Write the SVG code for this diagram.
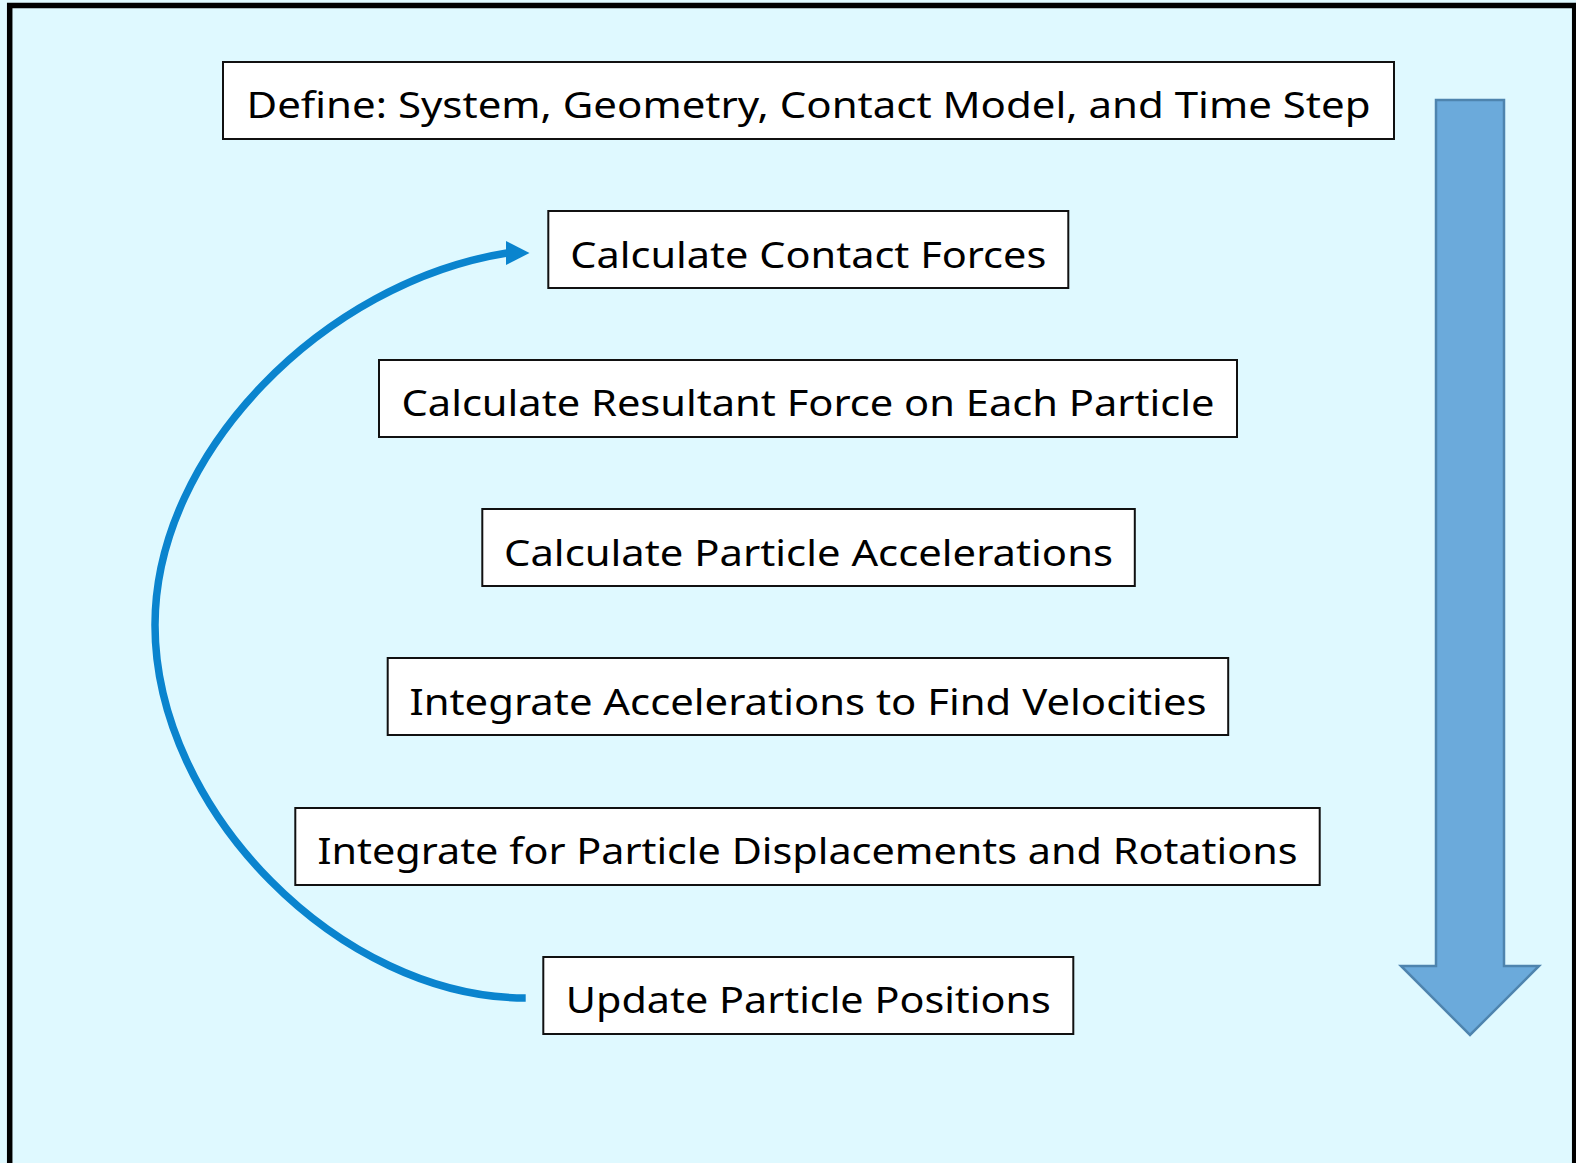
<svg xmlns="http://www.w3.org/2000/svg" width="1576" height="1163" viewBox="0 0 1576 1163">
<style>
.box rect { fill: #ffffff; stroke: #111111; stroke-width: 2; }
.box text { font-family: "Noto Sans", "Open Sans", sans-serif; font-size: 36.5px; fill: #000000; text-anchor: middle; }
</style>
<defs>
<marker id="head" markerUnits="userSpaceOnUse" markerWidth="26" markerHeight="26" refX="1" refY="12" orient="0">
<polygon points="0,0 23.5,12 0,24" fill="#0A84CE"/>
</marker>
</defs>
<rect x="0" y="0" width="1576" height="1163" fill="#DFF9FF"/>
<rect id="frame" x="9.7" y="5.5" width="1565" height="1200" fill="#DFF9FF" stroke="#000000" stroke-width="5.5"/>

<g id="flow-arrow">
<polygon points="1436,100 1504,100 1504,966 1539,966 1470,1035 1401,966 1436,966" fill="#6BAADB" stroke="#4E84AE" stroke-width="2.5" stroke-linejoin="miter"/>
</g>

<g id="n1" class="box">
<rect x="223" y="62" width="1171" height="77"/>
<text x="808.5" y="118.3" textLength="1124" lengthAdjust="spacingAndGlyphs">Define: System, Geometry, Contact Model, and Time Step</text>
</g>
<g id="n2" class="box">
<rect x="548.3" y="211" width="520" height="77"/>
<text x="808.3" y="267.5" textLength="476" lengthAdjust="spacingAndGlyphs">Calculate Contact Forces</text>
</g>
<g id="n3" class="box">
<rect x="379" y="360" width="858" height="77"/>
<text x="808" y="416.4" textLength="813" lengthAdjust="spacingAndGlyphs">Calculate Resultant Force on Each Particle</text>
</g>
<g id="n4" class="box">
<rect x="482.3" y="509" width="652.5" height="77"/>
<text x="808.5" y="565.6" textLength="609" lengthAdjust="spacingAndGlyphs">Calculate Particle Accelerations</text>
</g>
<g id="n5" class="box">
<rect x="387.7" y="658" width="840.5" height="77"/>
<text x="808" y="714.8" textLength="797" lengthAdjust="spacingAndGlyphs">Integrate Accelerations to Find Velocities</text>
</g>
<g id="n6" class="box">
<rect x="295.3" y="808" width="1024.4" height="77"/>
<text x="807.5" y="864" textLength="980" lengthAdjust="spacingAndGlyphs">Integrate for Particle Displacements and Rotations</text>
</g>
<g id="n7" class="box">
<rect x="543.3" y="957" width="530" height="77"/>
<text x="808.3" y="1013.3" textLength="485" lengthAdjust="spacingAndGlyphs">Update Particle Positions</text>
</g>

<g id="connectors">
<path d="M 525.7,998 C 340,998 155,810 155,625 C 155,452 325,282 507,253" fill="none" stroke="#0A84CE" stroke-width="7.5" marker-end="url(#head)"/>
</g>
</svg>
